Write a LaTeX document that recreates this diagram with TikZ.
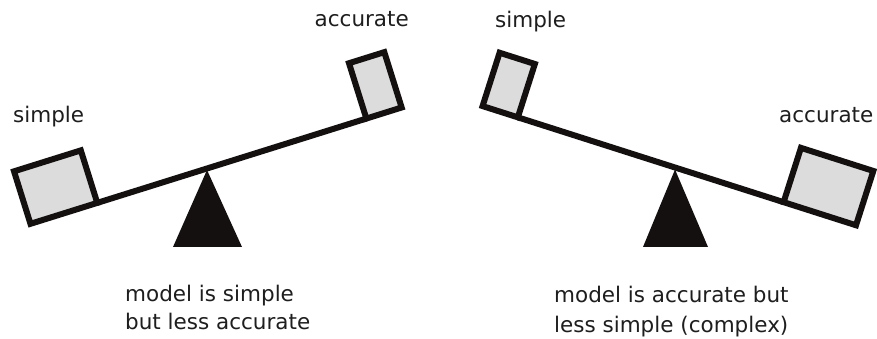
\documentclass[tikz,border=0pt]{standalone}
\usepackage{fontspec}
\setmainfont{DejaVu Sans}
\usetikzlibrary{calc}
\definecolor{ink}{RGB}{20,16,16}
\definecolor{boxfill}{RGB}{220,220,220}
\definecolor{txt}{RGB}{30,30,30}
\tikzset{
  weight/.style={draw=ink, fill=boxfill, line width=6pt, inner sep=0pt, outer sep=0pt, line join=miter},
  beam/.style={draw=ink, line width=6pt},
  fulcrum/.style={fill=ink},
  lbl/.style={font=\fontsize{21.5}{25}\selectfont, text=txt, inner sep=0pt, anchor=base west},
}
\begin{document}
\begin{tikzpicture}[x=1pt,y=1pt]
\useasboundingbox (0,0) rectangle (877,339);
\fill[white] (0,0) rectangle (877,339);
% left seesaw
\coordinate (P1) at (207,170.5);
\coordinate (T1) at (207,169);
\coordinate (T1a) at (173,92);
\coordinate (T1b) at (242,92);
\fill[fulcrum] (T1) -- (T1a) -- (T1b) -- cycle;
\node[weight, rotate=17.4, minimum width=70pt, minimum height=55pt, anchor=south east] (lsimple) at ($(P1)+(197.4:115)$) {};
\node[weight, rotate=17.4, minimum width=37pt, minimum height=58pt, anchor=south west] (laccurate) at ($(P1)+(17.4:167)$) {};
\draw[beam] (lsimple.south east) -- (laccurate.south west);
% right seesaw
\coordinate (P2) at (675,171.5);
\coordinate (T2) at (675,169.5);
\coordinate (T2a) at (643,92);
\coordinate (T2b) at (708,92);
\fill[fulcrum] (T2) -- (T2a) -- (T2b) -- cycle;
\node[weight, rotate=-17.7, minimum width=37pt, minimum height=56pt, anchor=south west] (rsimple) at ($(P2)+(162.3:202)$) {};
\node[weight, rotate=-17.7, minimum width=76pt, minimum height=57pt, anchor=south west] (raccurate) at ($(P2)+(-17.7:114)$) {};
\draw[beam] (rsimple.south east) -- (raccurate.south west);
% labels
\node[lbl] (t1) at (13,216) {simple};
\node[lbl, anchor=base east] (t2) at (409,312) {accurate};
\node[lbl] (t3) at (495,311) {simple};
\node[lbl] (t4) at (779,216) {accurate};
\node[lbl] (c1a) at (125,37) {model is simple};
\node[lbl] (c1b) at (125,9) {but less accurate};
\node[lbl] (c2a) at (554,36) {model is accurate but};
\node[lbl] (c2b) at (554,6) {less simple (complex)};
\end{tikzpicture}
\end{document}
